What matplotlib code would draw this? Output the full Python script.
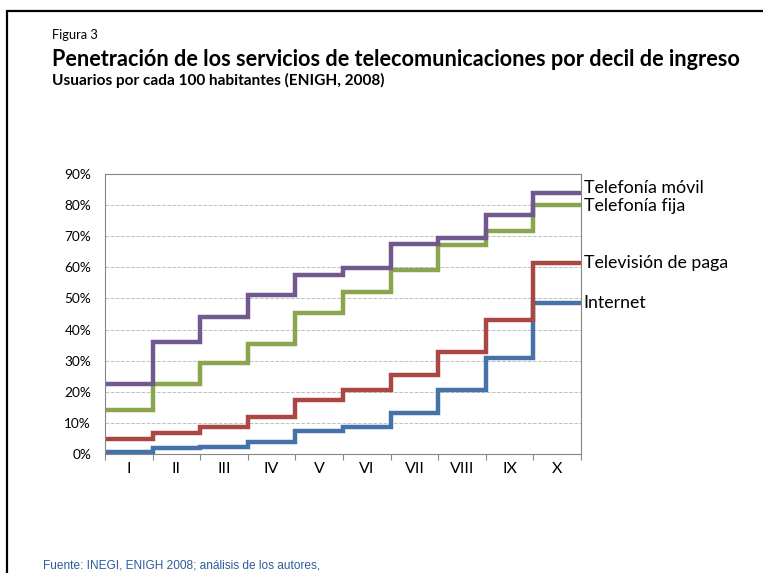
import numpy as np
import matplotlib.pyplot as plt
from matplotlib.patches import Rectangle

deciles = ['I', 'II', 'III', 'IV', 'V', 'VI', 'VII', 'VIII', 'IX', 'X']

# usuarios por cada 100 habitantes (%)
internet = [0.7, 1.8, 2.4, 4.0, 7.5, 8.8, 13.1, 20.6, 30.8, 48.6]
tv_paga = [4.7, 6.9, 8.8, 12.0, 17.4, 20.6, 25.4, 32.9, 43.1, 61.5]
tel_fija = [14.1, 22.5, 29.1, 35.3, 45.2, 52.2, 59.1, 67.2, 71.7, 80.0]
tel_movil = [22.5, 36.1, 44.1, 51.2, 57.5, 59.7, 67.5, 69.3, 76.8, 83.8]

series = [
    ('Internet', internet, '#4572A7', 0),
    ('Televisión de paga', tv_paga, '#AA4643', 0),
    ('Telefonía fija', tel_fija, '#89A54E', -1),
    ('Telefonía móvil', tel_movil, '#71588F', 4),
]

font = 'Lato'

fig = plt.figure(figsize=(7.63, 5.73), dpi=100)

# marco
fig.patches.append(Rectangle((7/763, -0.1), 1.1, 1 - 11/573 + 0.1, transform=fig.transFigure,
                             fill=False, edgecolor='black', linewidth=1.6))

fig.text(52/763, 1 - 35/573, 'Figura 3', fontsize=9.3, family=font, va='center')
fig.text(52/763, 1 - 59/573, 'Penetración de los servicios de telecomunicaciones por decil de ingreso',
         fontsize=15.6, family=font, weight='bold', va='center')
fig.text(52/763, 1 - 80/573, 'Usuarios por cada 100 habitantes (ENIGH, 2008)',
         fontsize=11.1, family=font, weight='bold', va='center')
fig.text(43/763, 1 - 565/573, 'Fuente: INEGI, ENIGH 2008; análisis de los autores,',
         fontsize=8.6, family='Liberation Sans', color='#2E5C9A', va='center')

ax = fig.add_axes([105/763, 1 - 454/573, 476/763, 280/573])

edges = np.arange(len(deciles) + 1)
for name, vals, color, dy in series:
    ax.stairs(vals, edges, color=color, linewidth=3.2, baseline=None)
    ax.annotate(name, xy=(len(deciles), vals[-1]), xytext=(2, dy), textcoords='offset points',
                fontsize=12.8, family=font, va='center', ha='left', annotation_clip=False)

ax.set_xlim(0, len(deciles))
ax.set_ylim(0, 90)
ax.set_yticks(np.arange(0, 91, 10))
ax.set_yticklabels([f'{v}%' for v in range(0, 91, 10)], family=font, fontsize=9.8)
ax.tick_params(axis='y', length=0, pad=10)

ax.set_xticks(edges)
ax.set_xticklabels([])
ax.set_xticks(edges[:-1] + 0.5, minor=True)
ax.set_xticklabels(deciles, minor=True, family=font, fontsize=11.5)
ax.tick_params(axis='x', which='major', length=4, color='#868686')
ax.tick_params(axis='x', which='minor', length=0, pad=6)

ax.grid(axis='y', color='#BFBFBF', linestyle='--', linewidth=0.7)
ax.set_axisbelow(True)
for s in ax.spines.values():
    s.set_color('#868686')

fig.savefig('out.png', dpi=100)
